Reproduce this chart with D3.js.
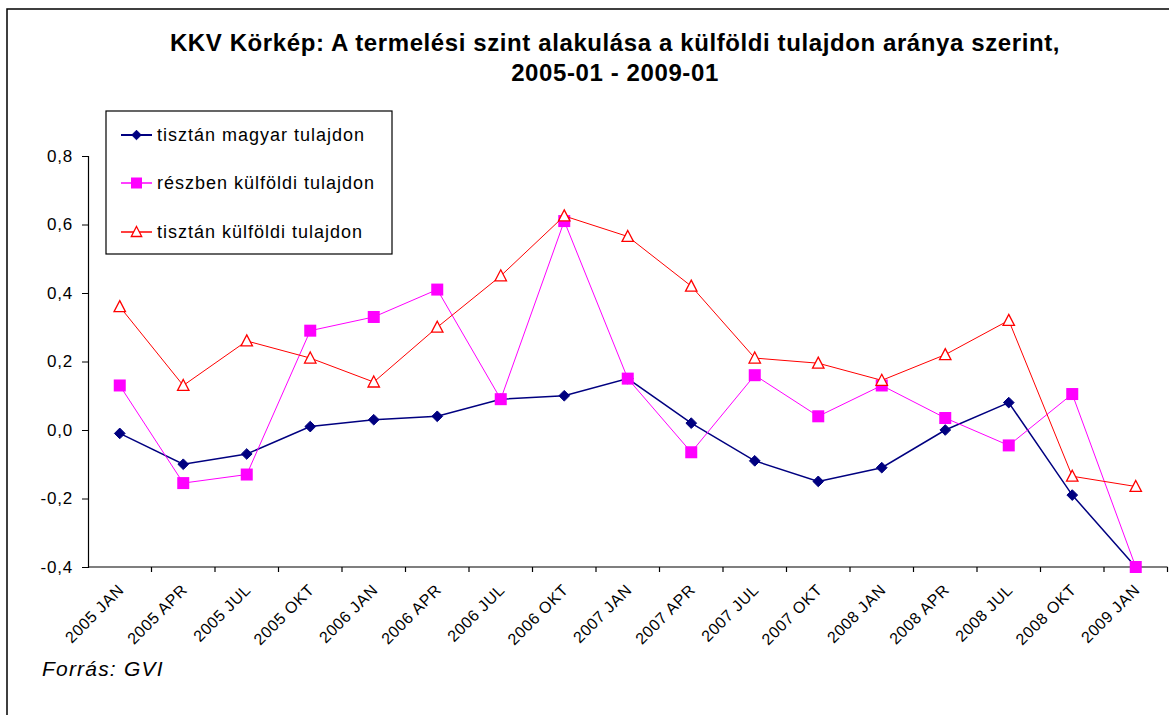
<!DOCTYPE html>
<html>
<head>
<meta charset="utf-8">
<script src="https://cdn.jsdelivr.net/npm/d3@7/dist/d3.min.js"></script>
<style>
  html, body { margin: 0; padding: 0; background: #fff; }
  svg { display: block; font-family: Arial, "Liberation Sans", sans-serif; }
</style>
</head>
<body>
<svg id="chart" width="1169" height="715"></svg>
<script>
// Negyedéves időszakok
const categories = [
  "2005 JAN", "2005 APR", "2005 JUL", "2005 OKT",
  "2006 JAN", "2006 APR", "2006 JUL", "2006 OKT",
  "2007 JAN", "2007 APR", "2007 JUL", "2007 OKT",
  "2008 JAN", "2008 APR", "2008 JUL", "2008 OKT",
  "2009 JAN"
];

// Termelési szint egyenlege tulajdonosi csoportonként
const tisztanMagyar = [
  -0.01, -0.10, -0.07, 0.01, 0.03, 0.04, 0.09, 0.10,
  0.15, 0.02, -0.09, -0.15, -0.11, 0.00, 0.08, -0.19, -0.40
];
const reszbenKulfoldi = [
  0.13, -0.155, -0.13, 0.29, 0.33, 0.41, 0.09, 0.61,
  0.15, -0.065, 0.16, 0.04, 0.13, 0.035, -0.045, 0.105, -0.40
];
const tisztanKulfoldi = [
  0.36, 0.13, 0.26, 0.21, 0.14, 0.30, 0.45, 0.625,
  0.565, 0.42, 0.21, 0.195, 0.145, 0.22, 0.32, -0.135, -0.165
];

const yTicks = [-0.4, -0.2, 0, 0.2, 0.4, 0.6, 0.8];
const seriesNames = [
  "tisztán magyar tulajdon",
  "részben külföldi tulajdon",
  "tisztán külföldi tulajdon"
];

const titleLines = [
  "KKV Körkép: A termelési szint alakulása a külföldi tulajdon aránya szerint,",
  "2005-01 - 2009-01"
];
const sourceText = "Forrás: GVI";

const series = [
  { name: seriesNames[0], values: tisztanMagyar, color: "#000080", width: 1.5, marker: "diamond" },
  { name: seriesNames[1], values: reszbenKulfoldi, color: "#ff00ff", width: 1, marker: "square" },
  { name: seriesNames[2], values: tisztanKulfoldi, color: "#ff0000", width: 1, marker: "triangle" }
];

const svg = d3.select("#chart");

// Keret
svg.append("rect")
  .attr("x", 7).attr("y", 9)
  .attr("width", 1200).attr("height", 760)
  .attr("fill", "#fff").attr("stroke", "#000").attr("stroke-width", 1.5);

const x = d3.scaleBand().domain(categories).range([88, 88 + 17 * 63.5]).padding(0);
const y = d3.scaleLinear().domain([-0.4, 0.8]).range([567, 156]);
const cx = d => x(d) + x.bandwidth() / 2;

// Cím
svg.append("g").selectAll("text").data(titleLines).join("text")
  .attr("x", 615).attr("y", (d, i) => 51 + i * 30)
  .attr("text-anchor", "middle")
  .attr("font-size", 24).attr("font-weight", "bold")
  .attr("letter-spacing", 0.6)
  .attr("fill", "#000")
  .text(d => d);

// Y tengely
const yAxis = d3.axisLeft(y)
  .tickValues(yTicks)
  .tickSize(6)
  .tickPadding(9)
  .tickFormat(d => d3.format(".1f")(d).replace(".", ",").replace("−", "-"));
const gy = svg.append("g").attr("transform", "translate(88,0)").call(yAxis);
gy.select(".domain").attr("stroke", "#000").attr("stroke-width", 1.2);
gy.selectAll(".tick line").attr("stroke", "#000");
gy.selectAll(".tick text")
  .attr("font-size", 17).attr("fill", "#000")
  .attr("letter-spacing", 0.8)
  .attr("font-family", "Arial, 'Liberation Sans', sans-serif");

// X tengely: osztásjelek a kategóriahatárokon
const gx = svg.append("g");
gx.append("line")
  .attr("x1", x.range()[0]).attr("x2", x.range()[1])
  .attr("y1", y(-0.4)).attr("y2", y(-0.4))
  .attr("stroke", "#000").attr("stroke-width", 1.2);
gx.selectAll("line.tk").data(categories).join("line")
  .attr("class", "tk")
  .attr("x1", d => x(d) + x.bandwidth())
  .attr("x2", d => x(d) + x.bandwidth())
  .attr("y1", y(-0.4)).attr("y2", y(-0.4) + 5)
  .attr("stroke", "#000").attr("stroke-width", 1.2);
gx.selectAll("text").data(categories).join("text")
  .attr("transform", d => `translate(${cx(d) + 5},${y(-0.4) + 24}) rotate(-45)`)
  .attr("text-anchor", "end")
  .attr("font-size", 16).attr("fill", "#000")
  .attr("letter-spacing", 0.6)
  .text(d => d);

// Jelölők
function drawMarker(sel, type, color, size) {
  if (type === "diamond") {
    sel.append("path")
      .attr("d", d3.symbol(d3.symbolDiamond2, size * size * 0.9)())
      .attr("fill", color).attr("stroke", color).attr("stroke-width", 1);
  } else if (type === "square") {
    sel.append("rect")
      .attr("x", -size / 2).attr("y", -size / 2)
      .attr("width", size).attr("height", size)
      .attr("fill", color);
  } else {
    const h = size;
    sel.append("path")
      .attr("d", `M0,${-h * 0.55} L${h * 0.52},${h * 0.45} L${-h * 0.52},${h * 0.45} Z`)
      .attr("fill", "#fff").attr("stroke", color).attr("stroke-width", 1.3);
  }
}
const markerSize = { diamond: 9, square: 12, triangle: 11 };

const line = d3.line().x((d, i) => cx(categories[i])).y(d => y(d));

series.forEach(s => {
  const g = svg.append("g");
  g.append("path")
    .attr("d", line(s.values))
    .attr("fill", "none")
    .attr("stroke", s.color)
    .attr("stroke-width", s.width);
  g.selectAll("g.pt").data(s.values).join("g")
    .attr("class", "pt")
    .attr("transform", (d, i) => `translate(${cx(categories[i])},${y(d)})`)
    .each(function () { drawMarker(d3.select(this), s.marker, s.color, markerSize[s.marker]); });
});

// Jelmagyarázat
const legend = svg.append("g");
legend.append("rect")
  .attr("x", 106).attr("y", 111).attr("width", 286).attr("height", 143)
  .attr("fill", "#fff").attr("stroke", "#000").attr("stroke-width", 1.2);
const legendY = [135, 183, 232];
series.forEach((s, i) => {
  const g = legend.append("g").attr("transform", `translate(0,${legendY[i]})`);
  g.append("line")
    .attr("x1", 121).attr("x2", 152).attr("y1", 0).attr("y2", 0)
    .attr("stroke", s.color).attr("stroke-width", s.width + 0.5);
  const m = g.append("g").attr("transform", "translate(136.5,0)");
  drawMarker(m, s.marker, s.color, markerSize[s.marker] - 1);
  g.append("text")
    .attr("x", 157).attr("y", 0).attr("dy", "0.35em")
    .attr("font-size", 18).attr("fill", "#000")
    .attr("letter-spacing", 1)
    .text(s.name);
});

// Forrás
svg.append("text")
  .attr("x", 42).attr("y", 676)
  .attr("font-size", 21).attr("font-style", "italic")
  .attr("letter-spacing", 1.2)
  .attr("fill", "#000")
  .text(sourceText);
</script>
</body>
</html>
